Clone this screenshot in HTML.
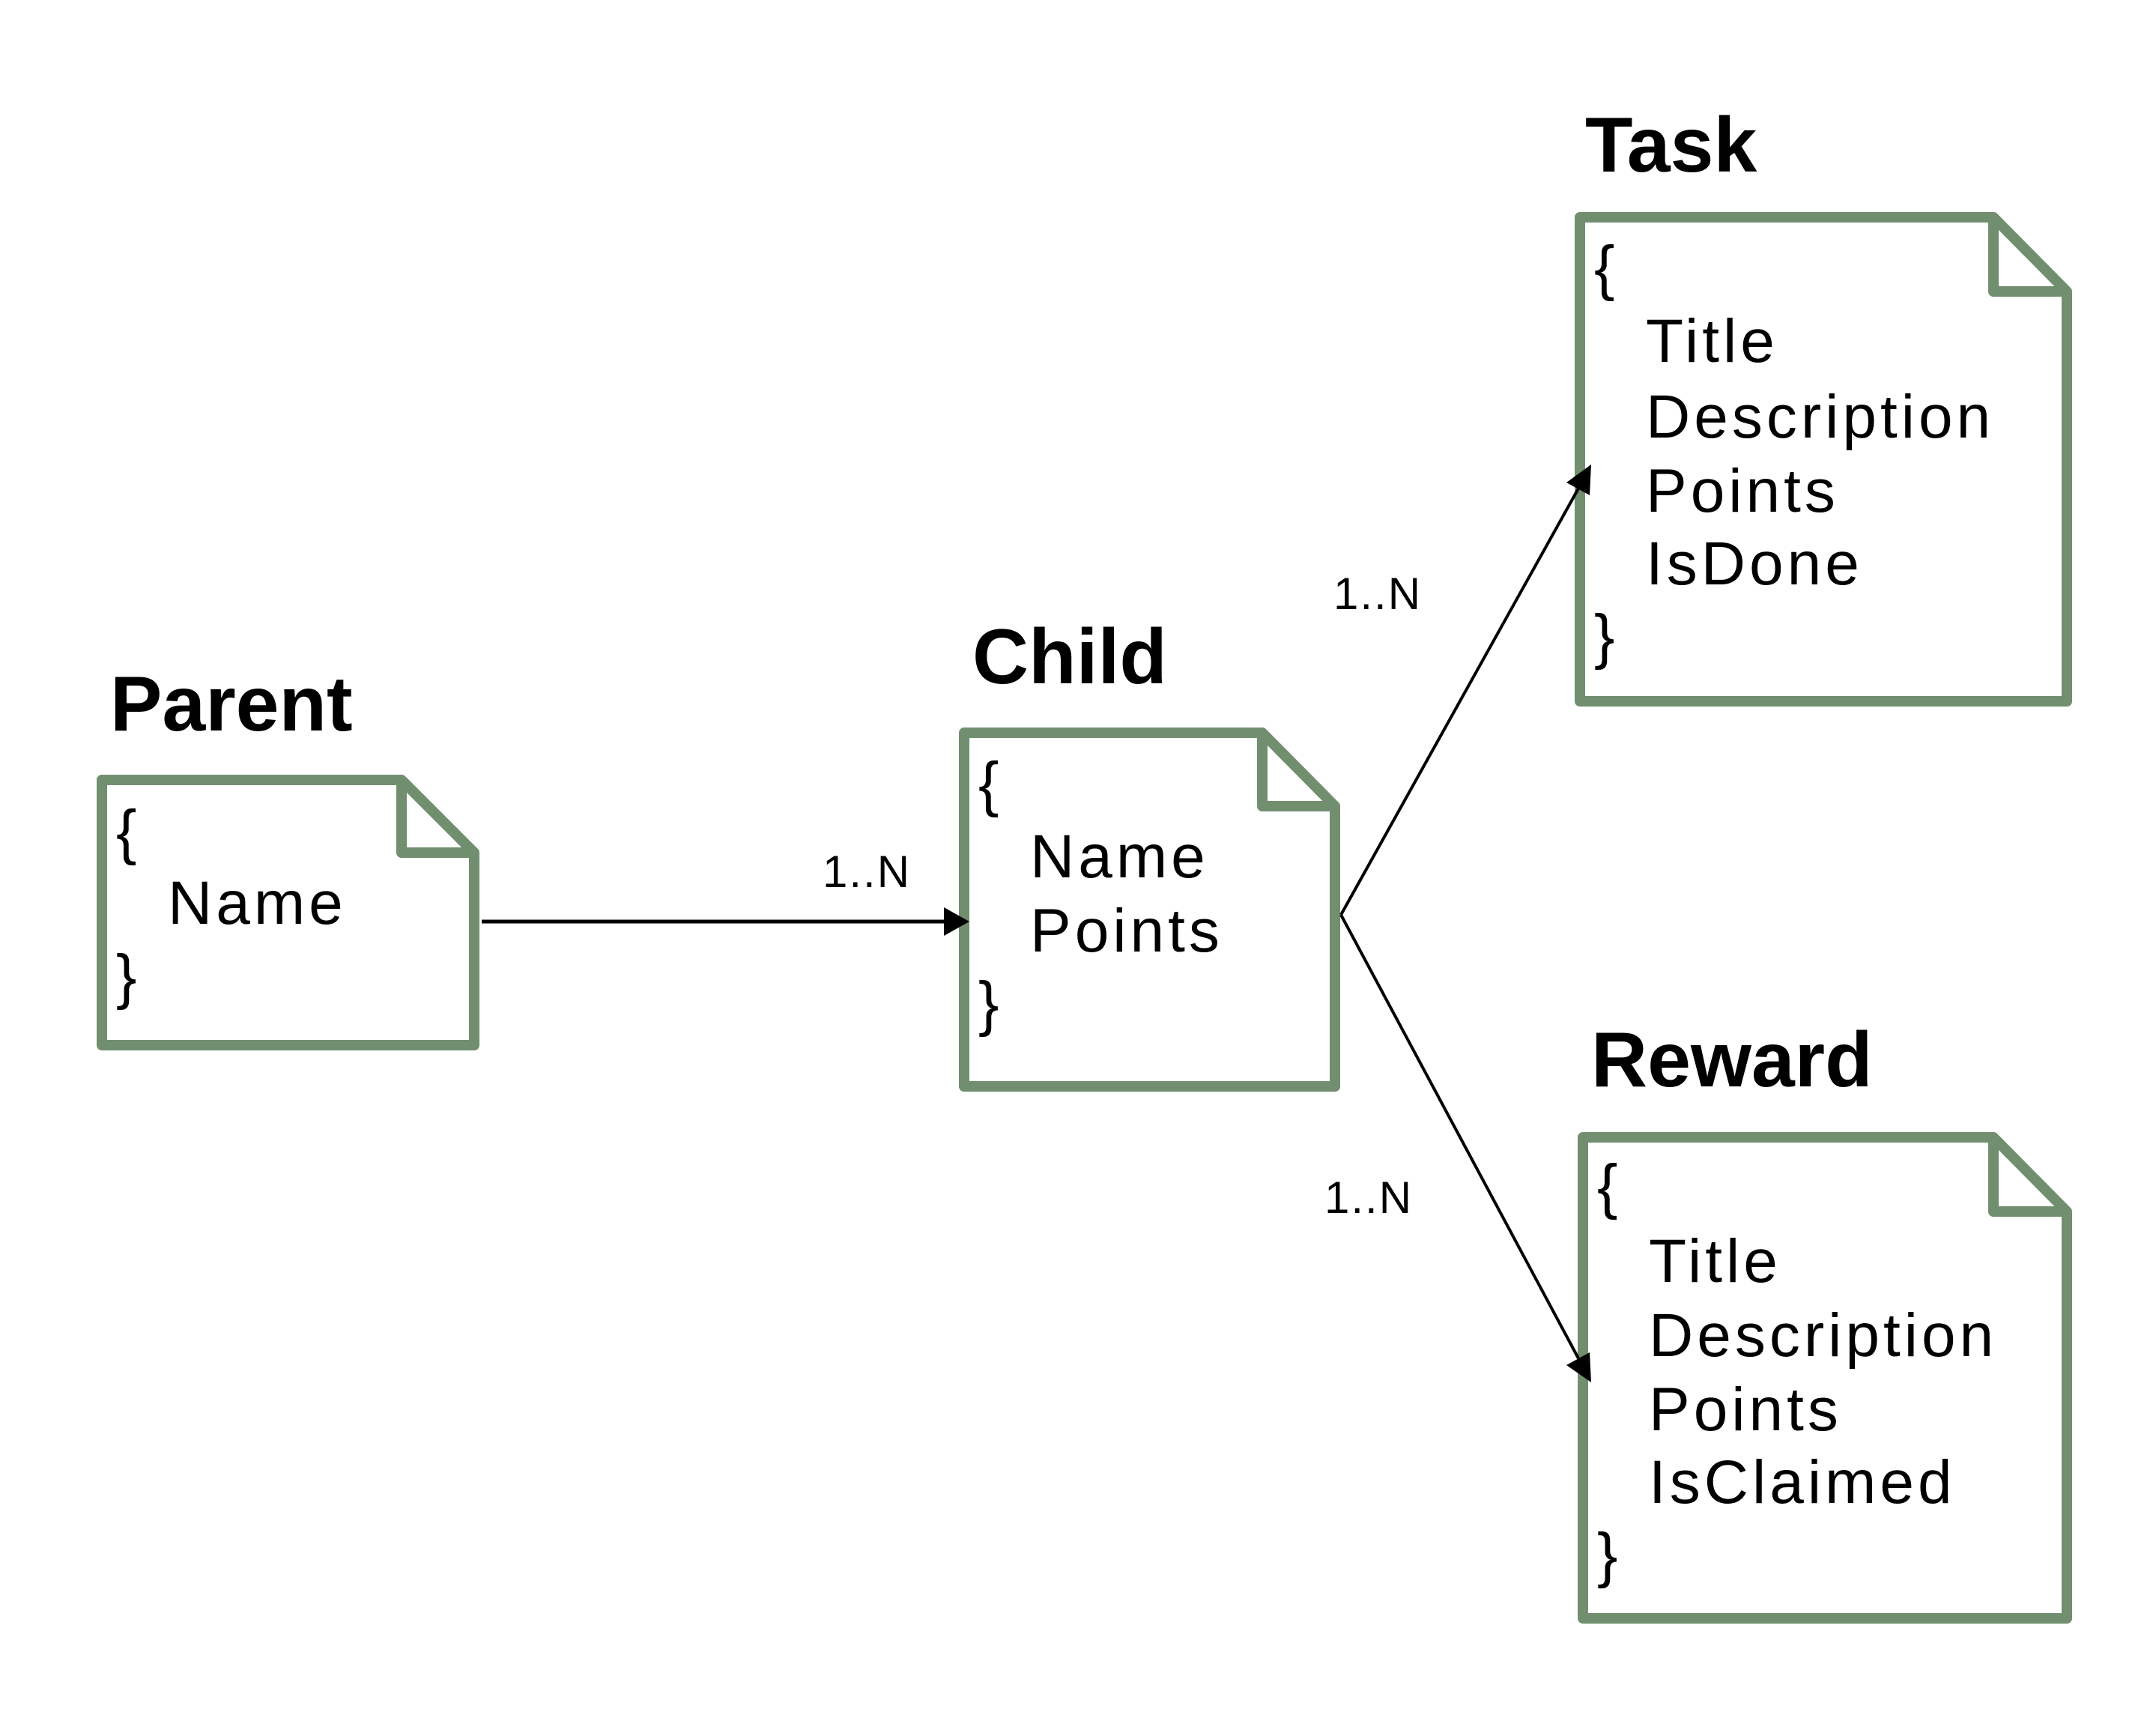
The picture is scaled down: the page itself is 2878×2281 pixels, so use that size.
<!DOCTYPE html>
<html><head><meta charset="utf-8"><style>
html,body{margin:0;padding:0;background:#fff;}
svg{display:block;}
text{font-family:"Liberation Sans","DejaVu Sans",sans-serif;fill:#000;}
.t{font-size:104px;font-weight:bold;}
.b{font-size:82px;letter-spacing:5px;}
.br{font-size:82px;}
.l{font-size:60px;letter-spacing:2px;}
.box{fill:#fff;stroke:#718f6f;stroke-width:14;stroke-linejoin:round;}
</style></head><body>
<svg width="2878" height="2281" viewBox="0 0 2878 2281">

<!-- Parent -->
<text class="t" x="147" y="975">Parent</text>
<path class="box" d="M136,1041 H536 L633,1138 V1395 H136 Z M536,1041 V1138 H633"/>
<text class="br" x="155" y="1138">{</text>
<text class="b" x="224" y="1233">Name</text>
<text class="br" x="155" y="1331">}</text>

<!-- Child -->
<text class="t" x="1298" y="912">Child</text>
<path class="box" d="M1287,978 H1685 L1782,1076 V1450 H1287 Z M1685,978 V1076 H1782"/>
<text class="br" x="1306" y="1074">{</text>
<text class="b" x="1375" y="1171">Name</text>
<text class="b" x="1375" y="1270">Points</text>
<text class="br" x="1306" y="1367">}</text>

<!-- Task -->
<text class="t" x="2116" y="229">Task</text>
<path class="box" d="M2109,290 H2661 L2759,389 V936 H2109 Z M2661,290 V389 H2759"/>
<text class="br" x="2128" y="385">{</text>
<text class="b" x="2197" y="483">Title</text>
<text class="b" x="2197" y="584">Description</text>
<text class="b" x="2197" y="683">Points</text>
<text class="b" x="2197" y="780">IsDone</text>
<text class="br" x="2128" y="877">}</text>

<!-- Reward -->
<text class="t" x="2124" y="1450">Reward</text>
<path class="box" d="M2113,1518 H2661 L2759,1617 V2160 H2113 Z M2661,1518 V1617 H2759"/>
<text class="br" x="2132" y="1611">{</text>
<text class="b" x="2201" y="1711">Title</text>
<text class="b" x="2201" y="1810">Description</text>
<text class="b" x="2201" y="1909">Points</text>
<text class="b" x="2201" y="2006">IsClaimed</text>
<text class="br" x="2132" y="2103">}</text>

<!-- connectors -->
<line x1="643" y1="1230" x2="1262" y2="1230" stroke="#000" stroke-width="5"/>
<polygon points="1294,1230 1260,1211 1260,1249" fill="#000"/>
<line x1="1790" y1="1221" x2="2107" y2="652" stroke="#000" stroke-width="4"/>
<polygon points="2124,620 2122,661 2091,644" fill="#000"/>
<line x1="1790" y1="1221" x2="2107" y2="1813" stroke="#000" stroke-width="4"/>
<polygon points="2124,1845 2091,1822 2122,1805" fill="#000"/>
<text class="l" x="1098" y="1184">1..N</text>
<text class="l" x="1780" y="813">1..N</text>
<text class="l" x="1768" y="1619">1..N</text>
</svg>
</body></html>
